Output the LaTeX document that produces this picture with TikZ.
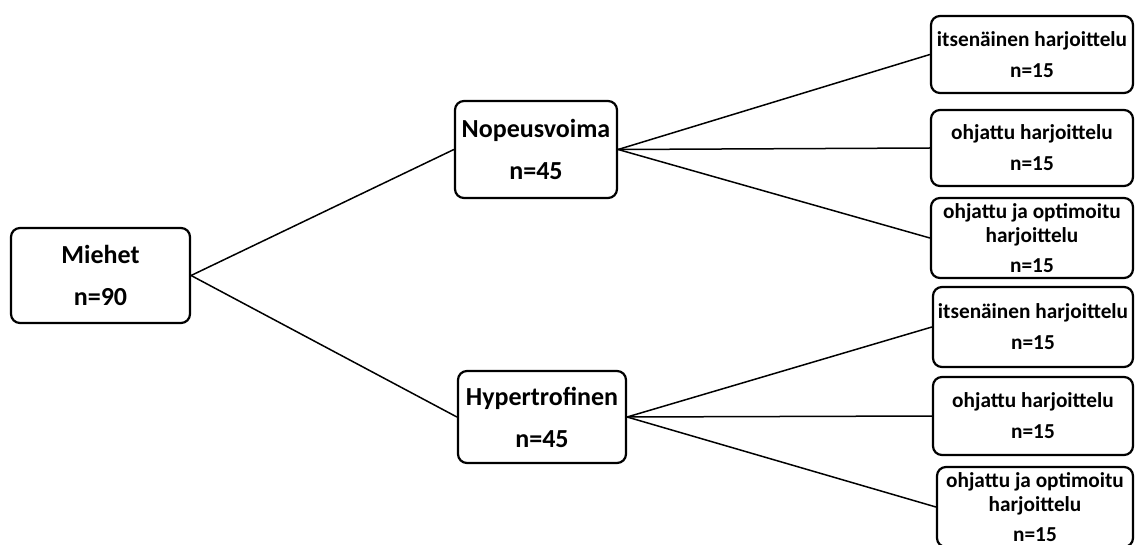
\documentclass[tikz,border=0pt]{standalone}
\usepackage{fontspec}
\setmainfont{Carlito}
\begin{document}
\begin{tikzpicture}[x=1pt,y=-1pt,
  box/.style={draw=black, line width=2.2pt, rounded corners=9pt, fill=white,
    align=center, inner sep=0pt, font=\bfseries},
  bigbox/.style={box, font=\bfseries\fontsize{26}{42}\selectfont},
  smallbox/.style={box, font=\bfseries\fontsize{21.3}{24}\selectfont},
  conn/.style={draw=black, line width=1.5pt}]
\useasboundingbox (0,0) rectangle (1138,545);
\fill[white] (0,0) rectangle (1138,545);

\node[bigbox, minimum width=179pt, minimum height=95pt] (m) at (100.5,275.5) {Miehet\\n=90};
\node[bigbox, minimum width=162pt, minimum height=97pt] (np) at (536,149.5) {Nopeusvoima\\n=45};
\node[bigbox, minimum width=168pt, minimum height=92pt] (hy) at (542,417) {Hypertrofinen\\n=45};

\node[smallbox, minimum width=202pt, minimum height=77pt] (a1) at (1032,54.5) {itsenäinen harjoittelu\\[7pt]n=15};
\node[smallbox, minimum width=202pt, minimum height=76pt] (a2) at (1032,148) {ohjattu harjoittelu\\[7pt]n=15};
\node[smallbox, minimum width=202pt, minimum height=80pt] (a3) at (1032,238) {ohjattu ja optimoitu\\harjoittelu\\[6pt]n=15};

\node[smallbox, minimum width=200pt, minimum height=80pt] (b1) at (1033,327) {itsenäinen harjoittelu\\[7pt]n=15};
\node[smallbox, minimum width=200pt, minimum height=78pt] (b2) at (1033,416) {ohjattu harjoittelu\\[7pt]n=15};
\node[smallbox, minimum width=196pt, minimum height=80pt] (b3) at (1035,507) {ohjattu ja optimoitu\\harjoittelu\\[6pt]n=15};

\draw[conn] (m.east) -- (np.west);
\draw[conn] (m.east) -- (hy.west);
\draw[conn] (np.east) -- (a1.west);
\draw[conn] (np.east) -- (a2.west);
\draw[conn] (np.east) -- (a3.west);
\draw[conn] (hy.east) -- (b1.west);
\draw[conn] (hy.east) -- (b2.west);
\draw[conn] (hy.east) -- (b3.west);
\end{tikzpicture}
\end{document}
